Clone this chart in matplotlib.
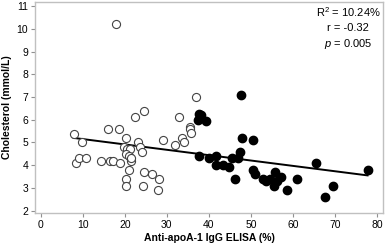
import numpy as np
import matplotlib.pyplot as plt

plt.rcParams['font.family'] = ['Liberation Sans', 'DejaVu Sans']
plt.rcParams['mathtext.fontset'] = 'custom'
plt.rcParams['mathtext.rm'] = 'Liberation Sans'
plt.rcParams['mathtext.it'] = 'Liberation Sans:italic'

# Open circles: low anti-apoA-1 IgG group
open_x = [7.8, 9.7, 8.4, 9.0, 10.7, 14.4, 16.0, 16.5, 17.1, 17.8, 18.6, 18.9,
          20.2, 19.8, 20.5, 21.3, 20.3, 21.0, 21.4, 21.5, 20.9, 20.2, 20.3,
          22.5, 24.5, 23.2, 23.5, 24.0, 24.5, 24.4, 26.4, 28.2, 27.9, 29.0,
          32.0, 32.8, 33.5, 34.2, 35.6, 35.6, 35.8, 37.0]
open_y = [5.35, 5.0, 4.1, 4.3, 4.3, 4.2, 5.6, 4.2, 4.2, 10.2, 5.6, 4.1,
          5.2, 4.8, 4.7, 4.7, 4.5, 4.4, 4.2, 4.3, 3.8, 3.4, 3.1,
          6.1, 6.4, 5.0, 4.8, 4.6, 3.7, 3.1, 3.6, 3.4, 2.9, 5.1,
          4.9, 6.1, 5.2, 5.0, 5.7, 5.6, 5.4, 7.0]

# Filled circles: high anti-apoA-1 IgG group
filled_x = [37.7, 38.2, 37.4, 39.4, 47.6, 37.7, 40.0, 41.6, 41.6, 43.3, 44.8,
            45.4, 46.9, 47.5, 47.9, 50.5, 46.3, 50.6, 51.1, 53.0, 53.6, 54.6,
            55.7, 55.4, 56.3, 57.1, 58.6, 61.1, 65.6, 67.7, 69.5, 77.8]
filled_y = [6.25, 6.2, 5.97, 5.95, 7.1, 4.4, 4.3, 4.4, 4.0, 4.0, 3.9,
            4.3, 4.3, 4.6, 5.2, 5.1, 3.4, 3.8, 3.6, 3.4, 3.3, 3.4,
            3.7, 3.1, 3.3, 3.5, 2.9, 3.4, 4.1, 2.6, 3.1, 3.8]

# Regression line end points
fit_x = [7.8, 77.8]
fit_y = [5.2, 3.55]

x_ticks = [0, 10, 20, 30, 40, 50, 60, 70, 80]
y_ticks = [2, 3, 4, 5, 6, 7, 8, 9, 10, 11]

fig = plt.figure(figsize=(3.87, 2.47), dpi=100)
ax = fig.add_axes([0.0904, 0.138, 0.8996, 0.854])

ax.scatter(open_x, open_y, s=34, facecolors='white', edgecolors='#444444',
           linewidths=0.8, zorder=3)
ax.scatter(filled_x, filled_y, s=36, color='black', zorder=3)
ax.plot(fit_x, fit_y, color='black', lw=1.4, zorder=2)

ax.set_xlim(-1.4, 81.5)
ax.set_ylim(1.9, 11.18)
ax.set_xticks(x_ticks)
ax.set_yticks(y_ticks)
ax.tick_params(labelsize=7.5, length=3, width=0.8, color='#909090', pad=2)
for s in ax.spines.values():
    s.set_color('#c0c0c0')
    s.set_linewidth(1.0)

ax.set_xlabel('Anti-apoA-1 IgG ELISA (%)', fontsize=7.5, fontweight='bold', labelpad=2)
ax.set_ylabel('Cholesterol (mmol/L)', fontsize=7.5, fontweight='bold', labelpad=3)

ax.text(0.9, 0.95, 'R$^2$ = 10.24%', transform=ax.transAxes, ha='center',
        va='center', fontsize=8)
ax.text(0.9, 0.875, 'r = -0.32', transform=ax.transAxes, ha='center',
        va='center', fontsize=8)
ax.text(0.9, 0.80, '$p$ = 0.005', transform=ax.transAxes, ha='center',
        va='center', fontsize=8)

fig.savefig('out.png', dpi=100)
